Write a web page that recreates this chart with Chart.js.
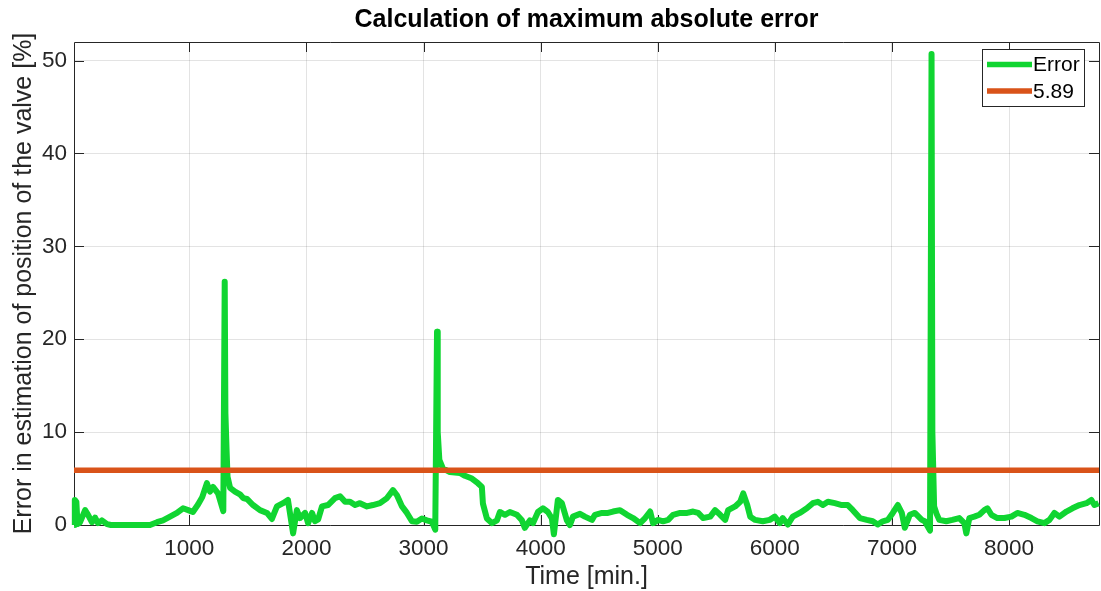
<!DOCTYPE html>
<html>
<head>
<meta charset="utf-8">
<title>Calculation of maximum absolute error</title>
<script src="https://cdn.jsdelivr.net/npm/chart.js@4.4.1/dist/chart.umd.min.js"></script>
<style>
    html, body { margin: 0; padding: 0; background: #fff; }
    #myChart { display: block; }
</style>
</head>
<body>
<canvas id="myChart" width="1101" height="591"></canvas>
<script>
// Time stamps [min.]
const timeMin = [
    16, 22, 35, 45, 67, 110, 135, 168, 195, 220, 253, 297, 330, 450, 560, 664, 724, 775, 835, 894,
    946, 990, 1030, 1074, 1110, 1150, 1176, 1202, 1245, 1290, 1302, 1308, 1318, 1326, 1348, 1390, 1432, 1460,
    1492, 1544, 1603, 1663, 1705, 1748, 1800, 1842, 1886, 1918, 1945, 1988, 2014, 2048, 2073, 2100,
    2133, 2184, 2244, 2287, 2330, 2372, 2415, 2457, 2517, 2568, 2628, 2688, 2739, 2773, 2816, 2858,
    2901, 2943, 2986, 3028, 3071, 3100, 3115, 3121, 3135, 3165, 3225, 3310, 3353, 3413, 3464, 3498,
    3507, 3541, 3584, 3627, 3652, 3695, 3737, 3797, 3840, 3865, 3908, 3934, 3977, 4019, 4062, 4096,
    4113, 4147, 4181, 4224, 4250, 4276, 4336, 4378, 4438, 4464, 4524, 4575, 4618, 4678, 4738, 4789,
    4849, 4892, 4935, 4960, 5003, 5046, 5089, 5131, 5191, 5251, 5302, 5345, 5388, 5448, 5490, 5533,
    5576, 5601, 5661, 5704, 5730, 5764, 5790, 5832, 5897, 5956, 5999, 6042, 6067, 6110, 6153, 6213,
    6273, 6324, 6367, 6410, 6453, 6512, 6572, 6623, 6666, 6726, 6785, 6836, 6879, 6922, 6965, 7007,
    7050, 7084, 7110, 7153, 7195, 7255, 7280, 7325, 7338, 7345, 7360, 7381, 7404, 7464, 7515, 7575,
    7618, 7635, 7661, 7703, 7746, 7789, 7815, 7849, 7900, 7960, 8020, 8071, 8131, 8191, 8242, 8302,
    8345, 8387, 8430, 8490, 8541, 8601, 8661, 8703, 8729, 8765
];

// Error in estimated valve position [%]
const errorPct = [
    0.0, 2.7, 2.5, 0.1, 0.3, 1.6, 1.1, 0.3, 0.8, 0.2, 0.5, 0.1, 0.0, 0.0, 0.0, 0.0, 0.3, 0.5, 0.9, 1.3,
    1.8, 1.6, 1.4, 2.2, 3.0, 4.5, 3.6, 4.1, 3.4, 1.5, 26.2, 12.0, 8.0, 5.2, 4.0, 3.6, 3.3, 2.9,
    2.8, 2.15, 1.6, 1.3, 0.65, 2.0, 2.35, 2.7, -0.9, 1.6, 0.75, 1.3, 0.2, 1.3, 0.4, 0.6,
    2.0, 2.15, 2.9, 3.1, 2.5, 2.5, 2.15, 2.35, 2.0, 2.15, 2.35, 2.9, 3.75, 3.2, 2.0, 1.3,
    0.4, 0.35, 0.7, 0.5, 0.35, -0.5, 20.8, 10.0, 7.0, 6.1, 5.7, 5.6, 5.3, 5.0, 4.5, 4.1,
    2.3, 0.7, 0.2, 0.5, 1.4, 1.1, 1.4, 1.1, 0.5, -0.3, 0.5, 0.2, 1.4, 1.8, 1.4, 0.7,
    -1.0, 2.7, 2.35, 0.5, 0.0, 0.9, 1.2, 0.9, 0.55, 1.1, 1.3, 1.3, 1.45, 1.6, 1.1, 0.75,
    0.2, 0.75, 1.45, 0.2, 0.55, 0.4, 0.55, 1.1, 1.3, 1.3, 1.45, 1.3, 0.75, 0.9, 1.6, 1.1,
    0.55, 1.6, 2.0, 2.5, 3.4, 2.15, 0.9, 0.55, 0.4, 0.55, 0.9, 0.2, 0.75, 0.05, 0.9, 1.3,
    1.8, 2.35, 2.5, 2.15, 2.5, 2.35, 2.15, 2.15, 1.6, 0.75, 0.55, 0.4, 0.05, 0.4, 0.55, 1.3,
    2.15, 1.3, -0.3, 1.1, 1.3, 0.55, 0.4, -0.6, 50.7, 10.0, 2.0, 1.2, 0.55, 0.4, 0.55, 0.75,
    0.2, -0.9, 0.75, 0.9, 1.1, 1.6, 1.8, 1.1, 0.75, 0.75, 0.9, 1.3, 1.1, 0.75, 0.4, 0.2,
    0.55, 1.3, 0.9, 1.45, 1.8, 2.15, 2.35, 2.7, 2.15, 2.35
];

// Maximum allowed error (threshold line)
const maxError = 5.89;

// Axis ranges and tick labels
const xRange = [15, 8768];
const yRange = [0, 52];
const xTickValues = [1000, 2000, 3000, 4000, 5000, 6000, 7000, 8000];
const yTickValues = [0, 10, 20, 30, 40, 50];

const axisColor = "#262626";
const gridColor = "rgba(38, 38, 38, 0.13)";
const fontFamily = "'Liberation Sans', Arial, Helvetica, sans-serif";

// Box around the plot with inward tick marks
const axesBox = {
    id: "axesBox",
    beforeDatasetsDraw(chart) {
        const ctx = chart.ctx;
        const a = chart.chartArea;
        const x = chart.scales.x;
        const y = chart.scales.y;
        const tick = 10;
        ctx.save();
        ctx.strokeStyle = axisColor;
        ctx.lineWidth = 1;
        ctx.beginPath();
        ctx.rect(Math.round(a.left) + 0.5, Math.round(a.top) + 0.5,
                 Math.round(a.right - a.left), Math.round(a.bottom - a.top));
        xTickValues.forEach(v => {
            const px = Math.round(x.getPixelForValue(v)) + 0.5;
            ctx.moveTo(px, a.bottom); ctx.lineTo(px, a.bottom - tick);
            ctx.moveTo(px, a.top); ctx.lineTo(px, a.top + tick);
        });
        yTickValues.forEach(v => {
            const py = Math.round(y.getPixelForValue(v)) + 0.5;
            ctx.moveTo(a.left, py); ctx.lineTo(a.left + tick, py);
            ctx.moveTo(a.right, py); ctx.lineTo(a.right - tick, py);
        });
        ctx.stroke();
        ctx.restore();
    }
};

// Legend box in the upper right corner of the plot
const boxLegend = {
    id: "boxLegend",
    afterDraw(chart) {
        const ctx = chart.ctx;
        const a = chart.chartArea;
        const w = 102, h = 57;
        const left = Math.round(a.right - 15 - w);
        const top = Math.round(a.top + 7);
        ctx.save();
        ctx.fillStyle = "#fff";
        ctx.fillRect(left, top, w, h);
        ctx.strokeStyle = axisColor;
        ctx.lineWidth = 1;
        ctx.strokeRect(left + 0.5, top + 0.5, w, h);
        ctx.font = "21px " + fontFamily;
        ctx.textBaseline = "middle";
        ctx.textAlign = "left";
        chart.data.datasets.forEach((ds, i) => {
            const ly = top + 15.5 + i * 26.5;
            ctx.strokeStyle = ds.borderColor;
            ctx.lineWidth = 5.5;
            ctx.beginPath();
            ctx.moveTo(left + 5, ly);
            ctx.lineTo(left + 50, ly);
            ctx.stroke();
            ctx.fillStyle = "#000";
            ctx.fillText(ds.label, left + 51, ly + 1);
        });
        ctx.restore();
    }
};

const errorPoints = timeMin.map((t, i) => ({ x: t, y: errorPct[i] }));
const limitPoints = [{ x: xRange[0], y: maxError }, { x: xRange[1], y: maxError }];

const config = {
    type: "line",
    data: {
        datasets: [
            {
                label: "Error",
                data: errorPoints,
                borderColor: "#10d531",
                borderWidth: 6,
                borderJoinStyle: "round",
                pointRadius: 0,
                tension: 0,
                fill: false,
                clip: false,
                order: 1
            },
            {
                label: String(maxError),
                data: limitPoints,
                borderColor: "#d95319",
                borderWidth: 5.5,
                pointRadius: 0,
                fill: false,
                order: 0
            }
        ]
    },
    options: {
        responsive: false,
        animation: false,
        events: [],
        layout: { padding: { top: 0, left: 0, right: 2, bottom: 0 } },
        plugins: {
            legend: { display: false },
            tooltip: { enabled: false },
            title: {
                display: true,
                text: "Calculation of maximum absolute error",
                color: "#000",
                fullSize: false,
                font: { size: 25, weight: "bold", family: fontFamily, lineHeight: 1.2 },
                padding: { top: 5, bottom: 7 }
            }
        },
        scales: {
            x: {
                type: "linear",
                min: xRange[0],
                max: xRange[1],
                afterBuildTicks: s => { s.ticks = xTickValues.map(v => ({ value: v })); },
                afterFit: s => { s.height = 66; },
                grid: { color: gridColor, drawTicks: false },
                border: { display: false },
                ticks: {
                    color: axisColor,
                    padding: 10,
                    maxRotation: 0,
                    autoSkip: false,
                    font: { size: 22.5, family: fontFamily },
                    callback: v => String(v)
                },
                title: {
                    display: true,
                    text: "Time [min.]",
                    color: axisColor,
                    font: { size: 25, family: fontFamily, lineHeight: 1 },
                    padding: { top: 0, bottom: 1 }
                }
            },
            y: {
                type: "linear",
                min: yRange[0],
                max: yRange[1],
                afterBuildTicks: s => { s.ticks = yTickValues.map(v => ({ value: v })); },
                afterFit: s => { s.width = 74; },
                grid: { color: gridColor, drawTicks: false },
                border: { display: false },
                ticks: {
                    color: axisColor,
                    padding: 7,
                    font: { size: 22.5, family: fontFamily },
                    callback: v => String(v)
                },
                title: {
                    display: true,
                    text: "Error in estimation of position of the valve [%]",
                    color: axisColor,
                    font: { size: 25, family: fontFamily, lineHeight: 1 },
                    padding: { top: 12, bottom: 0 }
                }
            }
        }
    },
    plugins: [axesBox, boxLegend]
};

var myChart = new Chart(document.getElementById("myChart"), config);
</script>
</body>
</html>
